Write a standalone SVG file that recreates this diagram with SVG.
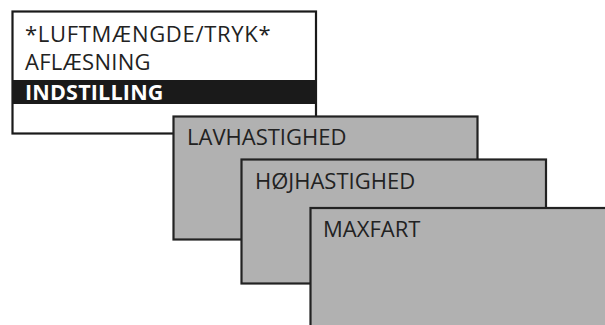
<svg xmlns="http://www.w3.org/2000/svg" width="605" height="325" viewBox="0 0 605 325">
<style>
.box{fill:#b1b1b1;stroke:#222;stroke-width:2.2}
.menu{fill:#fff;stroke:#1a1a1a;stroke-width:2.2}
.t{font-family:"Open Sans","Liberation Sans",sans-serif;font-size:22px;fill:#222}
.b{font-family:"Open Sans","Liberation Sans",sans-serif;font-size:21.5px;font-weight:bold;fill:#fff}
</style>
<rect width="605" height="325" fill="#fff"/>
<g id="menu">
<rect class="menu" x="12.5" y="11.5" width="303.5" height="122"/>
<rect x="12.5" y="80" width="303.5" height="24" fill="#1a1a1a"/>
<text class="t" x="25" y="42" letter-spacing="0.7">*LUFTMÆNGDE/TRYK*</text>
<text class="t" x="25" y="70" letter-spacing="0.3">AFLÆSNING</text>
<text class="b" x="25" y="100" letter-spacing="0.2">INDSTILLING</text>
</g>
<g id="lavhastighed">
<rect class="box" x="173.5" y="116.5" width="304" height="123"/>
<text class="t" x="187" y="145">LAVHASTIGHED</text>
</g>
<g id="hojhastighed">
<rect class="box" x="241.5" y="159.5" width="304.5" height="124"/>
<text class="t" x="255" y="188.5">HØJHASTIGHED</text>
</g>
<g id="maxfart">
<rect class="box" x="310.5" y="208" width="304" height="123"/>
<text class="t" x="323" y="237">MAXFART</text>
</g>
</svg>
